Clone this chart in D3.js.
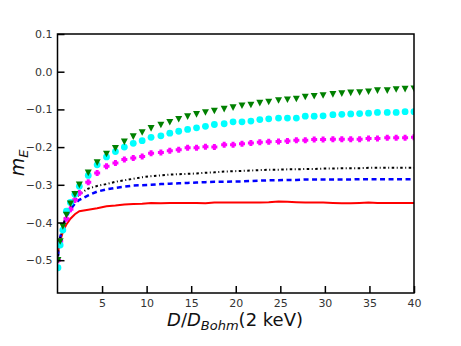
<!DOCTYPE html>
<html>
<head>
<meta charset="utf-8">
<script src="https://cdn.jsdelivr.net/npm/d3@7"></script>
<style>
  body { margin: 0; background: #fff; }
  text { font-family: "DejaVu Sans", sans-serif; }
</style>
</head>
<body>
<div id="chart"></div>
<script>
// Sample positions along D/D_Bohm
var xValues = [0.05, 0.3, 0.6, 1.0, 1.45, 1.95, 2.45, 3.45, 4.45, 5.5, 6.5, 7.5, 8.5, 9.5, 10.5,
  11.6, 12.6, 13.6, 14.6, 15.6, 16.6, 17.6, 18.7, 19.7, 20.7, 21.7, 22.7, 23.7, 24.8, 25.8,
  26.8, 27.8, 28.8, 29.8, 30.9, 31.9, 32.9, 33.9, 34.9, 35.9, 37.0, 38.0, 39.0, 40.0];

// m_E for each curve
var redSolid = [-0.48, -0.45, -0.425, -0.405, -0.39, -0.378, -0.37, -0.366, -0.362, -0.357, -0.355, -0.352, -0.351, -0.350, -0.348,
  -0.349, -0.348, -0.348, -0.348, -0.348, -0.349, -0.347, -0.347, -0.347, -0.347, -0.347, -0.347, -0.346, -0.344, -0.345,
  -0.346, -0.347, -0.347, -0.347, -0.348, -0.349, -0.349, -0.348, -0.347, -0.348, -0.348, -0.348, -0.348, -0.348];
var blueDashed = [-0.49, -0.44, -0.41, -0.385, -0.365, -0.35, -0.34, -0.328, -0.318, -0.312, -0.308, -0.305, -0.302, -0.301, -0.300,
  -0.298, -0.297, -0.296, -0.295, -0.294, -0.293, -0.292, -0.292, -0.291, -0.291, -0.290, -0.289, -0.288, -0.288, -0.287,
  -0.287, -0.286, -0.286, -0.286, -0.286, -0.286, -0.286, -0.285, -0.285, -0.285, -0.285, -0.285, -0.285, -0.285];
var blackDashDot = [-0.49, -0.44, -0.41, -0.38, -0.36, -0.34, -0.325, -0.31, -0.303, -0.298, -0.292, -0.288, -0.284, -0.280, -0.277,
  -0.275, -0.273, -0.272, -0.271, -0.270, -0.268, -0.267, -0.265, -0.264, -0.263, -0.262, -0.261, -0.260, -0.260, -0.259,
  -0.259, -0.258, -0.258, -0.257, -0.257, -0.256, -0.256, -0.256, -0.255, -0.255, -0.255, -0.255, -0.255, -0.255];
var magentaPlus = [-0.50, -0.45, -0.42, -0.39, -0.365, -0.34, -0.322, -0.293, -0.269, -0.251, -0.242, -0.233, -0.229, -0.225, -0.216,
  -0.214, -0.210, -0.207, -0.202, -0.202, -0.199, -0.200, -0.194, -0.194, -0.191, -0.189, -0.187, -0.186, -0.185, -0.184,
  -0.182, -0.182, -0.180, -0.180, -0.179, -0.179, -0.179, -0.179, -0.177, -0.177, -0.175, -0.175, -0.175, -0.174];
var cyanCircle = [-0.52, -0.46, -0.42, -0.37, -0.347, -0.325, -0.304, -0.275, -0.247, -0.226, -0.212, -0.200, -0.190, -0.183, -0.174,
  -0.170, -0.163, -0.158, -0.153, -0.149, -0.145, -0.140, -0.138, -0.133, -0.133, -0.131, -0.127, -0.125, -0.123, -0.123,
  -0.123, -0.118, -0.118, -0.117, -0.114, -0.113, -0.112, -0.111, -0.110, -0.108, -0.108, -0.108, -0.106, -0.106];
var greenTriangle = [-0.50, -0.45, -0.41, -0.38, -0.35, -0.325, -0.30, -0.268, -0.241, -0.218, -0.203, -0.186, -0.172, -0.161, -0.150,
  -0.141, -0.134, -0.126, -0.119, -0.113, -0.108, -0.104, -0.099, -0.095, -0.090, -0.088, -0.083, -0.080, -0.076, -0.074,
  -0.072, -0.067, -0.065, -0.063, -0.060, -0.058, -0.056, -0.055, -0.053, -0.050, -0.050, -0.047, -0.046, -0.045];

var xTicks = [5, 10, 15, 20, 25, 30, 35, 40];
var yTicks = [-0.5, -0.4, -0.3, -0.2, -0.1, 0.0, 0.1];

// SVG size and plot box
var svgWidth = 461;
var svgHeight = 346;
var box = { left: 57.5, right: 414, top: 34, bottom: 293 };

var svg = d3.select("#chart")
  .append("svg")
  .attr("width", svgWidth)
  .attr("height", svgHeight);

var xScale = d3.scaleLinear().domain([0, 40]).range([box.left, box.right]);
var yScale = d3.scaleLinear().domain([-0.587, 0.1]).range([box.bottom, box.top]);

svg.append("clipPath").attr("id", "plotClip")
  .append("rect")
  .attr("x", box.left).attr("y", box.top)
  .attr("width", box.right - box.left).attr("height", box.bottom - box.top);

var plot = svg.append("g").attr("clip-path", "url(#plotClip)");

var line = d3.line()
  .x((d, i) => xScale(xValues[i]))
  .y(d => yScale(d));

// Line series
plot.append("path").datum(redSolid)
  .attr("d", line).attr("fill", "none")
  .attr("stroke", "#ff0000").attr("stroke-width", 2);

plot.append("path").datum(blueDashed)
  .attr("d", line).attr("fill", "none")
  .attr("stroke", "#0000ff").attr("stroke-width", 2.5)
  .attr("stroke-dasharray", "5,3.5");

plot.append("path").datum(blackDashDot)
  .attr("d", line).attr("fill", "none")
  .attr("stroke", "#000").attr("stroke-width", 2)
  .attr("stroke-dasharray", "2.5,2.5,1,2.5");

// Marker series
var plusPath = "M-1.5,-3h3v1.5h1.5v3h-1.5v1.5h-3v-1.5h-1.5v-3h1.5z";
plot.selectAll(".magenta")
  .data(magentaPlus)
  .enter()
  .append("path")
  .attr("d", plusPath)
  .attr("transform", (d, i) => `translate(${xScale(xValues[i])},${yScale(d)})`)
  .attr("fill", "#ff00ff");

plot.selectAll(".cyan")
  .data(cyanCircle)
  .enter()
  .append("circle")
  .attr("cx", (d, i) => xScale(xValues[i]))
  .attr("cy", d => yScale(d))
  .attr("r", 3.4)
  .attr("fill", "#00ffff");

plot.selectAll(".green")
  .data(greenTriangle)
  .enter()
  .append("path")
  .attr("d", "M-3.5,-3.2L3.5,-3.2L0,3.4z")
  .attr("transform", (d, i) => `translate(${xScale(xValues[i])},${yScale(d)})`)
  .attr("fill", "#008000");

// Axes with inward ticks
var bottomAxis = d3.axisBottom(xScale)
  .tickValues(xTicks)
  .tickSize(-7)
  .tickPadding(6)
  .tickFormat(d3.format("d"));

var leftAxis = d3.axisLeft(yScale)
  .tickValues(yTicks)
  .tickSize(-7)
  .tickPadding(5)
  .tickFormat(d3.format(".1f"));

var xAxis = svg.append("g")
  .attr("transform", `translate(0, ${box.bottom})`)
  .call(bottomAxis);

var yAxis = svg.append("g")
  .attr("transform", `translate(${box.left}, 0)`)
  .call(leftAxis);

[xAxis, yAxis].forEach(function(ax) {
  ax.select(".domain").remove();
  ax.selectAll(".tick line").attr("stroke", "#000").attr("stroke-width", 1.5);
  ax.selectAll(".tick text")
    .attr("fill", "#333")
    .attr("font-size", 11)
    .attr("font-family", "DejaVu Sans, sans-serif");
});

// Frame
svg.append("rect")
  .attr("x", box.left).attr("y", box.top)
  .attr("width", box.right - box.left).attr("height", box.bottom - box.top)
  .attr("fill", "none").attr("stroke", "#000").attr("stroke-width", 1.5);

// Axis titles
var xLabel = svg.append("text")
  .attr("x", 235)
  .attr("y", 326)
  .attr("text-anchor", "middle")
  .attr("font-size", 18)
  .attr("fill", "#111");
xLabel.append("tspan").attr("font-style", "italic").text("D");
xLabel.append("tspan").text("/");
xLabel.append("tspan").attr("font-style", "italic").text("D");
xLabel.append("tspan").attr("font-style", "italic").attr("font-size", 13).attr("dy", 4).text("Bohm");
xLabel.append("tspan").attr("dy", -4).text("(2 keV)");

var yLabel = svg.append("text")
  .attr("transform", "translate(24, 163) rotate(-90)")
  .attr("text-anchor", "middle")
  .attr("font-size", 19)
  .attr("fill", "#111");
yLabel.append("tspan").attr("font-style", "italic").text("m");
yLabel.append("tspan").attr("font-style", "italic").attr("font-size", 13).attr("dy", 4).text("E");
</script>
</body>
</html>
